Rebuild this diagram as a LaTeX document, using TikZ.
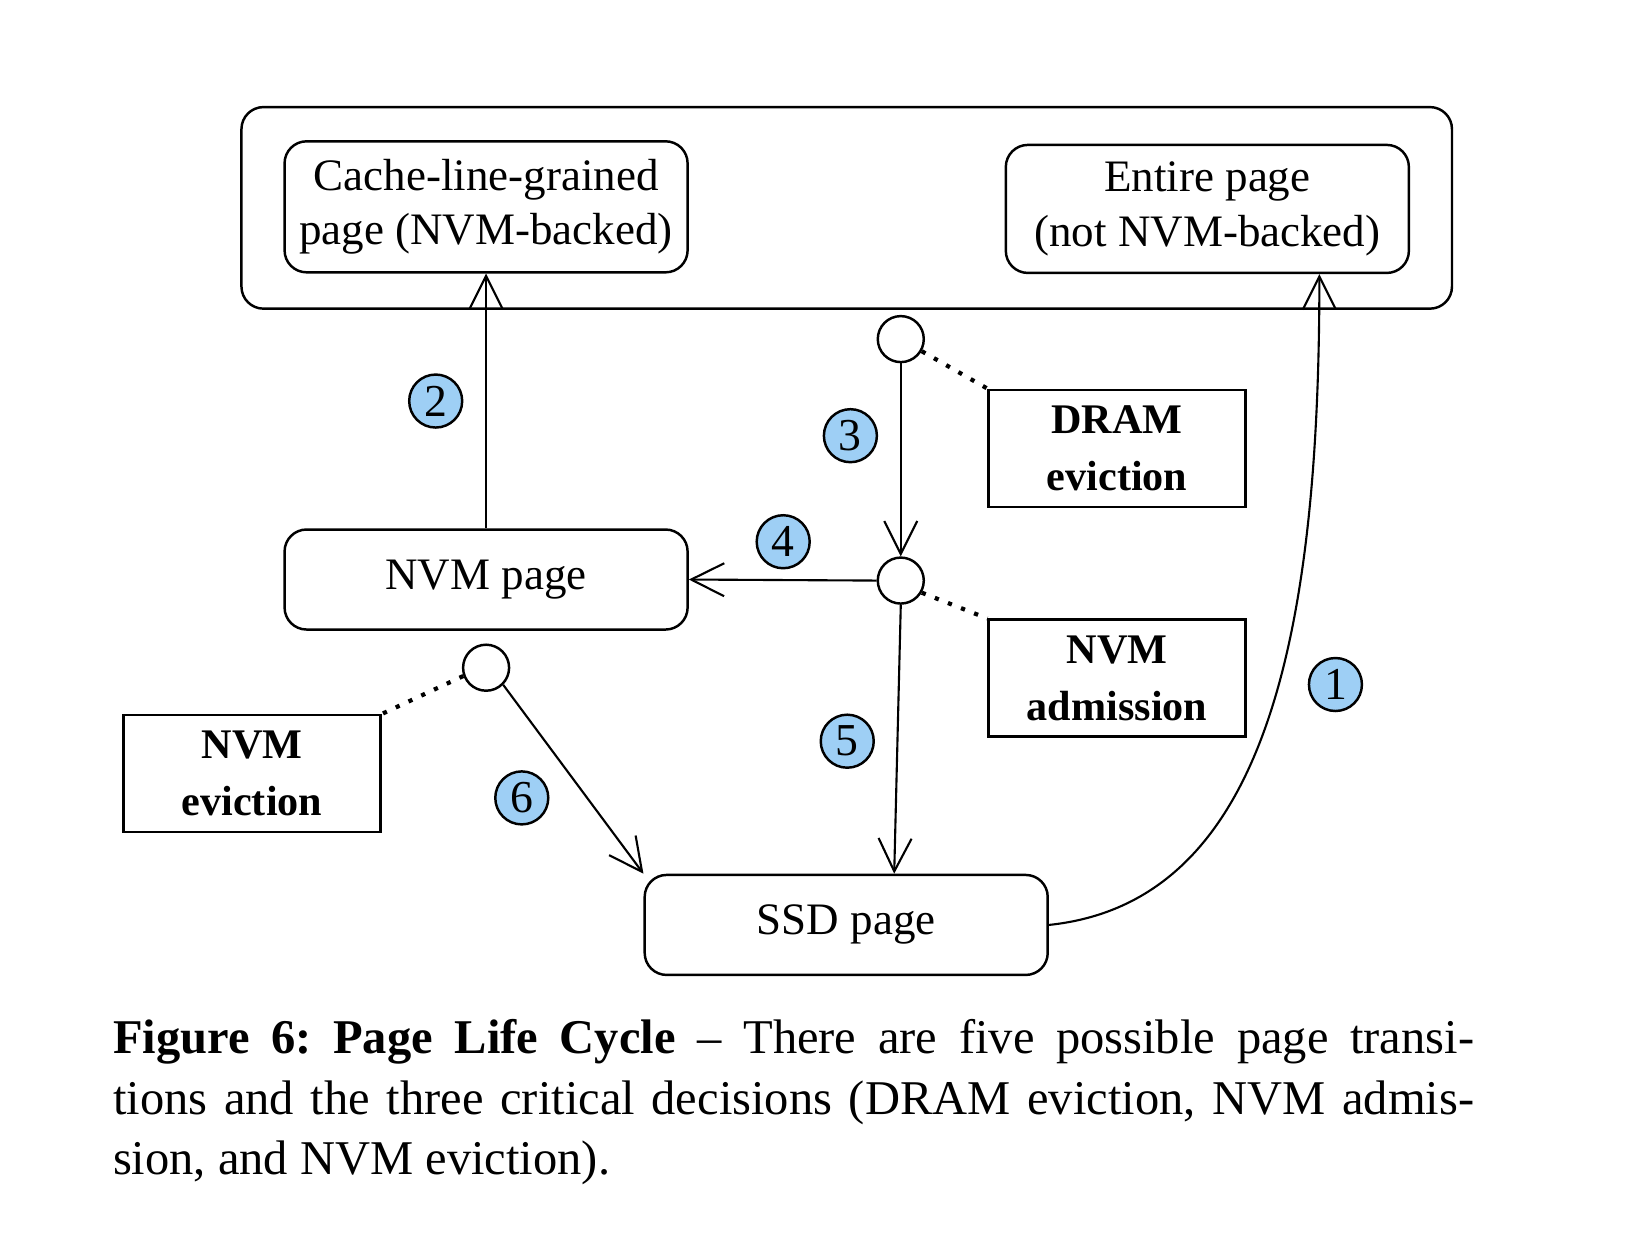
\documentclass[tikz,border=0pt]{standalone}
\usepackage{fontspec}
\setmainfont{Liberation Serif}
\usetikzlibrary{arrows.meta}
\definecolor{badgeblue}{RGB}{158,207,245}
\begin{document}
\begin{tikzpicture}[x=0.0105cm,y=-0.0105cm,
        >={Straight Barb[length=3.3mm,width=3.3mm]},
        page/.style={draw,line width=0.7pt,rounded corners=0.22cm,minimum width=4.03cm,align=center,font=\fontsize{12.8}{15.5}\selectfont},
        decision/.style={draw,line width=0.7pt,minimum width=2.57cm,minimum height=1.17cm,align=center,font=\bfseries\fontsize{12}{16.2}\selectfont},
        choice/.style={draw,circle,line width=0.7pt,minimum size=0.46cm,inner sep=0pt},
        badge/.style={draw,circle,fill=badgeblue,line width=0.7pt,minimum size=0.53cm,inner sep=0pt,font=\fontsize{13}{13}\selectfont},
        flow/.style={->,line width=0.6pt},
        link/.style={line width=1.2pt,dash pattern=on 1.2pt off 2.8pt}]

        \useasboundingbox (0,0) rectangle (1564,1183);

        \draw[line width=0.7pt,rounded corners=0.22cm] (230,102) rectangle (1383,294);

        \node[page,minimum height=1.31cm] (cache) at (463,197) {Cache-line-grained\\page (NVM-backed)};
        \node[page,minimum height=1.28cm] (entire) at (1150,199) {Entire page\\(not NVM-backed)};
        \node[page,minimum height=1.0cm] (nvm) at (463,552) {NVM page};
        \node[page,minimum height=1.0cm] (ssd) at (806,881) {SSD page};

        \node[decision] (dramev) at (1064,427) {DRAM\\eviction};
        \node[decision] (nvmadm) at (1064,646) {NVM\\admission};
        \node[decision] (nvmev) at (240,737) {NVM\\eviction};

        \node[choice] (d1) at (858,323) {};
        \node[choice] (d2) at (858,553) {};
        \node[choice] (d3) at (463,636) {};

        \node[badge] (b1) at (1272,652) {1};
        \node[badge] (b2) at (415,382) {2};
        \node[badge] (b3) at (810,415) {3};
        \node[badge] (b4) at (746,516) {4};
        \node[badge] (b5) at (807,706) {5};
        \node[badge] (b6) at (497,760) {6};

        \draw[flow] (ssd.east) .. controls (1200,860) and (1257,620) .. ([xshift=1.12cm]entire.south);
        \draw[flow] (nvm.north) -- (cache.south);
        \draw[flow] (d1.south) -- (d2.north);
        \draw[flow] (d2.west) -- (nvm.east);
        \draw[flow] (d2.south) -- ([xshift=0.48cm]ssd.north);
        \draw[flow] (d3.south east) -- (ssd.north west);

        \draw[link] (d1.-30) -- (dramev.north west);
        \draw[link] (d2.-30) -- (nvmadm.north west);
        \draw[link] (d3.200) -- (nvmev.north east);

        \node[anchor=north west,inner sep=0pt,text width=13.61cm,align=justify,font=\fontsize{13.8}{17.3}\selectfont\frenchspacing] (caption) at (107,970) {\textbf{Figure 6: Page Life Cycle} -- There are five possible page transi-\linebreak tions and the three critical decisions (DRAM eviction, NVM admis-\linebreak sion, and NVM eviction).};
    \end{tikzpicture}
\end{document}
